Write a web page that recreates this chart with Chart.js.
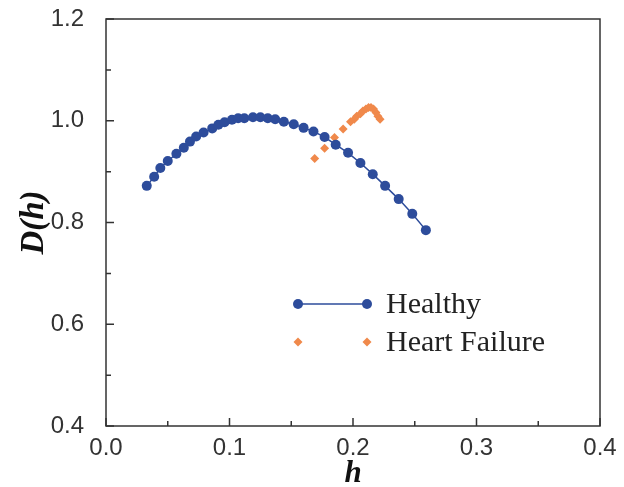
<!DOCTYPE html>
<html>
<head>
<meta charset="utf-8">
<script src="https://cdn.jsdelivr.net/npm/chart.js@4"></script>
<style>
  html, body { margin: 0; padding: 0; background: #fff; }
  canvas { display: block; }
</style>
</head>
<body>
<canvas id="myChart" width="624" height="487"></canvas>
<script>
// Healthy curve, D(h) against h
const hHealthy = [0.033, 0.039, 0.044, 0.050, 0.057, 0.063, 0.068, 0.073, 0.079, 0.086, 0.091, 0.096,
  0.102, 0.107, 0.112, 0.119, 0.125, 0.131, 0.137, 0.144, 0.152, 0.160, 0.168, 0.177,
  0.186, 0.196, 0.206, 0.216, 0.226, 0.237, 0.248, 0.259];
const dHealthy = [0.872, 0.890, 0.907, 0.921, 0.935, 0.947, 0.959, 0.969, 0.977, 0.985, 0.992, 0.997,
  1.002, 1.005, 1.005, 1.007, 1.007, 1.005, 1.003, 0.998, 0.993, 0.986, 0.979, 0.968,
  0.953, 0.937, 0.917, 0.895, 0.872, 0.846, 0.817, 0.785];

// Heart failure curve
const hFailure = [0.169, 0.177, 0.185, 0.192, 0.198, 0.201, 0.203, 0.206, 0.208, 0.2105, 0.2126,
  0.2146, 0.2166, 0.2186, 0.2202, 0.2219];
const dFailure = [0.926, 0.946, 0.967, 0.984, 0.998, 1.003, 1.009, 1.014, 1.019, 1.023, 1.026,
  1.026, 1.023, 1.016, 1.009, 1.003];

const seriesNames = ['Healthy', 'Heart Failure'];
const xTickLabels = ['0.0', '0.1', '0.2', '0.3', '0.4'];
const yTickLabels = ['0.4', '0.6', '0.8', '1.0', '1.2'];

const blue = '#2d4c9b';
const orange = '#f0894b';

const toPoints = (xs, ys) => xs.map((v, i) => ({ x: v, y: ys[i] }));

// box round the plot with inward ticks
const frame = {
  id: 'frame',
  beforeDatasetsDraw(chart) {
    const { ctx, chartArea: a, scales: { x, y } } = chart;
    ctx.save();
    ctx.strokeStyle = '#333';
    ctx.lineWidth = 1.5;
    ctx.strokeRect(a.left, a.top, a.right - a.left, a.bottom - a.top);
    ctx.beginPath();
    x.ticks.forEach((t, i) => {
      const px = x.getPixelForValue(t.value);
      const len = i % 2 ? 5 : 8;
      ctx.moveTo(px, a.bottom);
      ctx.lineTo(px, a.bottom - len);
    });
    y.ticks.forEach((t, i) => {
      const py = y.getPixelForValue(t.value);
      const len = i % 2 ? 5 : 8;
      ctx.moveTo(a.left, py);
      ctx.lineTo(a.left + len, py);
    });
    ctx.stroke();
    ctx.restore();
  }
};

// legend drawn inside the plot
const insideLegend = {
  id: 'insideLegend',
  afterDraw(chart) {
    const ctx = chart.ctx;
    const x0 = 298, x1 = 367, tx = 386;
    const y0 = 304, y1 = 342;
    ctx.save();
    ctx.strokeStyle = blue;
    ctx.lineWidth = 1.5;
    ctx.beginPath();
    ctx.moveTo(x0, y0);
    ctx.lineTo(x1, y0);
    ctx.stroke();
    ctx.fillStyle = blue;
    [x0, x1].forEach(px => {
      ctx.beginPath();
      ctx.arc(px, y0, 5, 0, Math.PI * 2);
      ctx.fill();
    });
    ctx.fillStyle = orange;
    [x0, x1].forEach(px => {
      ctx.beginPath();
      ctx.moveTo(px, y1 - 4.5);
      ctx.lineTo(px + 4.5, y1);
      ctx.lineTo(px, y1 + 4.5);
      ctx.lineTo(px - 4.5, y1);
      ctx.closePath();
      ctx.fill();
    });
    ctx.fillStyle = '#222';
    ctx.font = '30px "Liberation Serif", "Times New Roman", serif';
    ctx.textBaseline = 'middle';
    ctx.fillText(seriesNames[0], tx, y0 + 1);
    ctx.fillText(seriesNames[1], tx, y1 + 1);
    ctx.restore();
  }
};

const data = {
  datasets: [{
    label: seriesNames[0],
    data: toPoints(hHealthy, dHealthy),
    showLine: true,
    borderColor: blue,
    borderWidth: 1.5,
    backgroundColor: blue,
    pointRadius: 5,
    pointBorderWidth: 0,
    pointBackgroundColor: blue
  }, {
    label: seriesNames[1],
    data: toPoints(hFailure, dFailure),
    showLine: false,
    backgroundColor: orange,
    pointStyle: 'rectRot',
    pointRadius: 4.5,
    pointBorderWidth: 0,
    pointBackgroundColor: orange
  }]
};

const tickFont = { family: '"Liberation Sans", Arial, sans-serif', size: 24 };

const options = {
  responsive: false,
  animation: false,
  layout: { padding: { top: 19, right: 24, left: 0, bottom: 0 } },
  plugins: { legend: { display: false }, tooltip: { enabled: false } },
  scales: {
    x: {
      type: 'linear',
      min: 0,
      max: 0.4,
      border: { display: false },
      grid: { drawOnChartArea: false, drawTicks: false },
      ticks: {
        stepSize: 0.05,
        autoSkip: false,
        maxRotation: 0,
        padding: 8,
        color: '#333',
        font: tickFont,
        callback: (v, i) => i % 2 ? '' : xTickLabels[i / 2]
      },
      title: {
        display: true,
        text: 'h',
        color: '#111',
        font: { family: '"Liberation Serif", "Times New Roman", serif', size: 31, weight: 'bold', style: 'italic', lineHeight: 0.8 },
        padding: { top: 0, bottom: 1 }
      },
      afterFit: s => { s.height = 61; s.paddingRight = 0; s.paddingLeft = 0; }
    },
    y: {
      type: 'linear',
      min: 0.4,
      max: 1.2,
      border: { display: false },
      grid: { drawOnChartArea: false, drawTicks: false },
      ticks: {
        stepSize: 0.1,
        autoSkip: false,
        padding: 22,
        color: '#333',
        font: tickFont,
        callback: (v, i) => i % 2 ? '' : yTickLabels[i / 2]
      },
      title: {
        display: true,
        text: 'D(h)',
        color: '#111',
        font: { family: '"Liberation Serif", "Times New Roman", serif', size: 33, weight: 'bold', style: 'italic', lineHeight: 1.2 },
        padding: { top: 15, bottom: 0 }
      },
      afterFit: s => { s.width = 106; s.paddingTop = 0; s.paddingBottom = 0; }
    }
  }
};

const canvas = document.getElementById('myChart');
const ctx = canvas.getContext('2d');
new Chart(ctx, { type: 'scatter', data: data, options: options, plugins: [frame, insideLegend] });
</script>
</body>
</html>
